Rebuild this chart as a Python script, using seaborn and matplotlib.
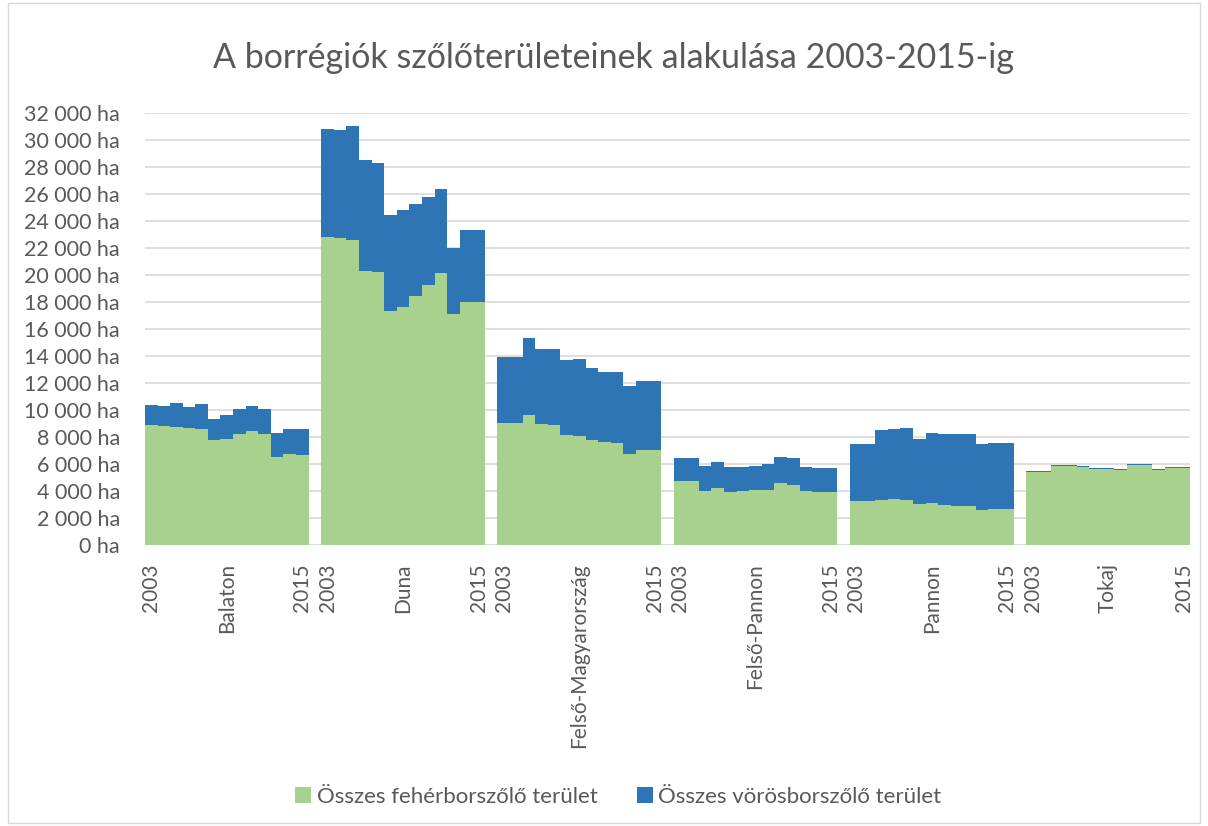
import matplotlib
matplotlib.use("Agg")
import matplotlib.pyplot as plt
from matplotlib.patches import Patch, Rectangle
import seaborn as sns
import pandas as pd

# data (hectares)
regions = ["Balaton", "Duna", "Felső-Magyarország", "Felső-Pannon", "Pannon", "Tokaj"]
years = list(range(2003, 2016))

white_balaton = [8910, 8840, 8770, 8690, 8620, 7780, 7850, 8240, 8440, 8220, 6520, 6770, 6690]
red_balaton = [1460, 1460, 1770, 1560, 1820, 1600, 1800, 1810, 1860, 1880, 1800, 1870, 1900]
white_duna = [22815, 22780, 22593, 20321, 20198, 17333, 17654, 18469, 19259, 20173, 17111, 18000, 18000]
red_duna = [7985, 8000, 8444, 8173, 8074, 7087, 7161, 6766, 6541, 6173, 4914, 5333, 5333]
white_felso_m = [9037, 9037, 9654, 8988, 8914, 8148, 8099, 7753, 7630, 7556, 6765, 7012, 7012]
red_felso_m = [4914, 4914, 5655, 5506, 5629, 5531, 5654, 5407, 5210, 5234, 5013, 5161, 5161]
white_felso_p = [4765, 4765, 4025, 4222, 3950, 4025, 4049, 4099, 4568, 4444, 3975, 3926, 3926]
red_felso_p = [1704, 1704, 1827, 1901, 1852, 1728, 1828, 1876, 1975, 2000, 1778, 1753, 1753]
white_pannon = [3259, 3259, 3309, 3383, 3333, 3012, 3111, 2938, 2914, 2889, 2593, 2642, 2642]
red_pannon = [4222, 4222, 5234, 5234, 5358, 4815, 5161, 5260, 5284, 5309, 4888, 4914, 4914]
white_tokaj = [5440, 5440, 5880, 5890, 5810, 5640, 5640, 5570, 5930, 5940, 5590, 5740, 5740]
red_tokaj = [40, 40, 45, 35, 40, 40, 40, 35, 45, 35, 40, 40, 40]

whites = [white_balaton, white_duna, white_felso_m, white_felso_p, white_pannon, white_tokaj]
reds = [red_balaton, red_duna, red_felso_m, red_felso_p, red_pannon, red_tokaj]

GREEN = "#A9D18E"
BLUE = "#2E75B6"
GREY = "#595959"

rows = []
order = []
for i, reg in enumerate(regions):
    if i > 0:
        order.append(f"gap{i}")  # empty slot between regions
    for y, w, r in zip(years, whites[i], reds[i]):
        lab = f"{reg} {y}"
        order.append(lab)
        rows.append({"label": lab, "region": reg, "year": y, "white": w, "red": r})
df = pd.DataFrame(rows)
df["total"] = df["white"] + df["red"]

sns.set_theme(style="white")
plt.rcParams["font.family"] = ["Lato", "DejaVu Sans"]

fig = plt.figure(figsize=(12.08, 8.26), dpi=100)
ax = fig.add_axes([0.12, 0.34, 0.865, 0.523])

sns.barplot(data=df, x="label", y="total", order=order, color=BLUE, saturation=1,
            width=1.0, errorbar=None, linewidth=0, ax=ax, zorder=3)
sns.barplot(data=df, x="label", y="white", order=order, color=GREEN, saturation=1,
            width=1.0, errorbar=None, linewidth=0, ax=ax, zorder=3)

ax.set_xlim(-0.5, len(order) - 0.5)
ax.set_ylim(0, 32000)
yt = list(range(0, 32001, 2000))
ax.set_yticks(yt)
ax.set_yticklabels([f"{v:,}".replace(",", " ") + " ha" for v in yt])
ax.yaxis.grid(True, color="#D9D9D9", linewidth=1.2, zorder=0)
ax.set_axisbelow(True)
for s in ax.spines.values():
    s.set_visible(False)

# only first year, region name and last year shown
pos, labs = [], []
for reg in regions:
    idx = [order.index(f"{reg} {y}") for y in years]
    pos += [idx[0], idx[6], idx[-1]]
    labs += [str(years[0]), reg, str(years[-1])]
ax.set_xticks(pos)
ax.set_xticklabels(labs, rotation=90, va="top", ha="center")
ax.tick_params(axis="x", length=0, pad=13, labelsize=15, labelcolor=GREY)
ax.tick_params(axis="y", length=0, pad=18, labelsize=15.5, labelcolor=GREY)
ax.set_xlabel("")
ax.set_ylabel("")

fig.text(0.508, 1 - 58 / 826, "A borrégiók szőlőterületeinek alakulása 2003-2015-ig",
         ha="center", va="center", fontsize=24.5, color=GREY)

handles = [Patch(facecolor=GREEN, edgecolor="none"), Patch(facecolor=BLUE, edgecolor="none")]
fig.legend(handles, ["Összes fehérborszőlő terület", "Összes vörösborszőlő terület"],
           loc="center", bbox_to_anchor=(0.512, 1 - 797 / 826), ncol=2, frameon=False,
           fontsize=16, labelcolor=GREY, handlelength=0.7, handleheight=0.7,
           handletextpad=0.25, columnspacing=1.8)

fig.patches.append(Rectangle((0.007, 0.004), 0.986, 0.992, transform=fig.transFigure,
                             fill=False, edgecolor="#D9D9D9", linewidth=1))

fig.savefig("out.png", dpi=100)
